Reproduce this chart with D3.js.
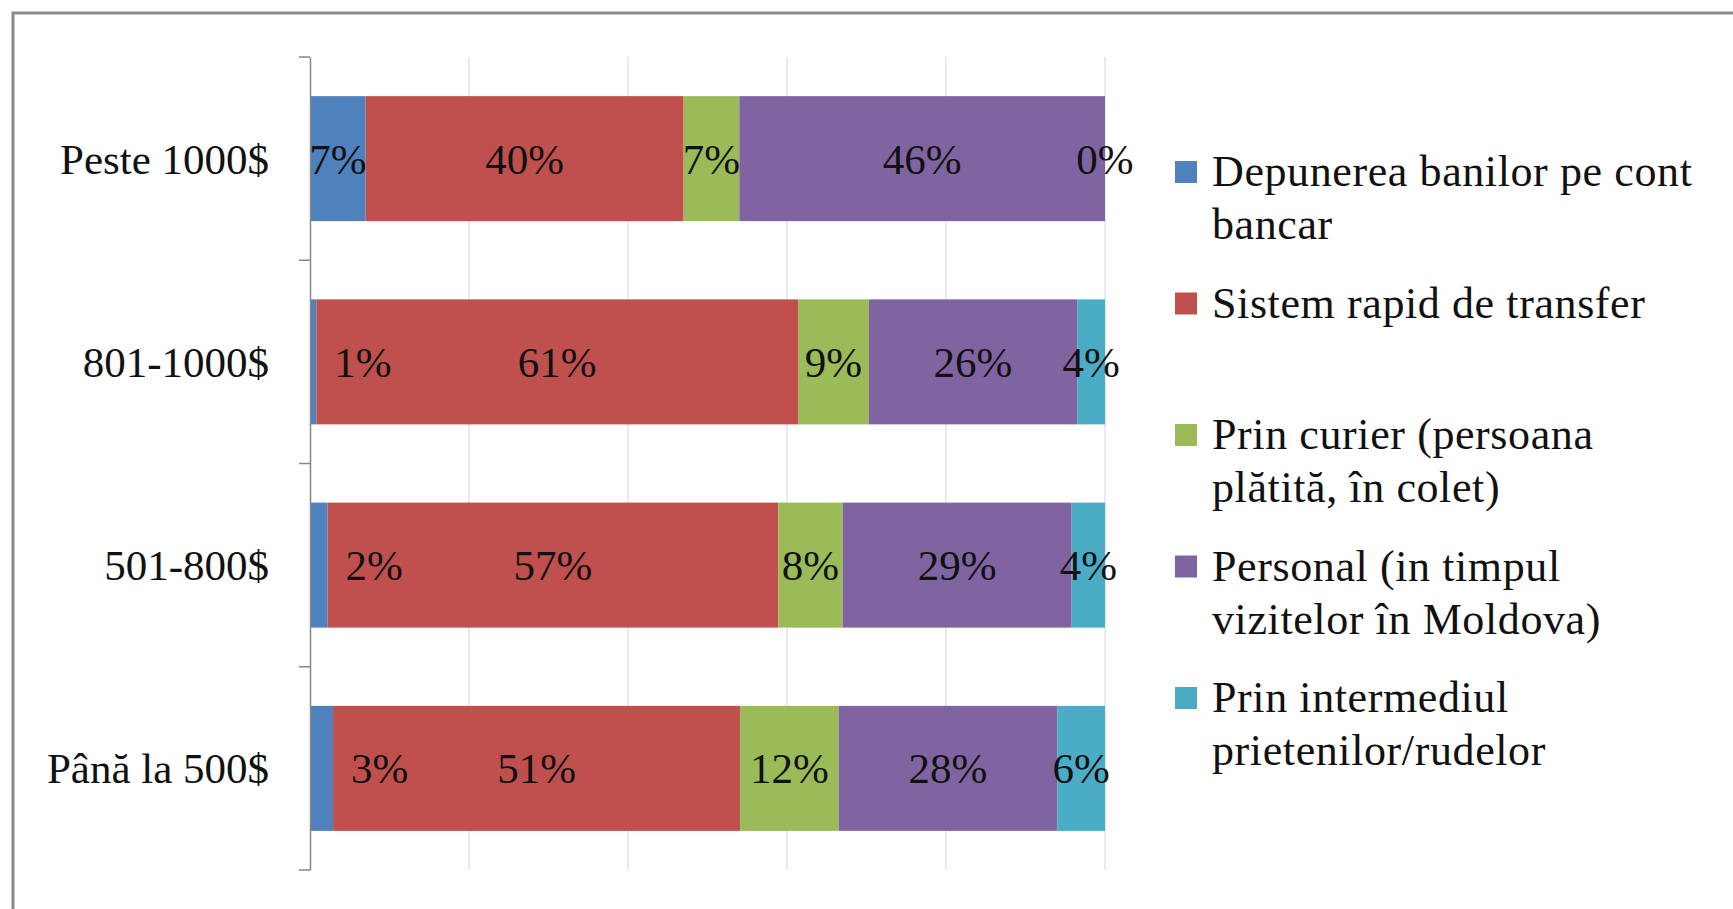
<html>
<script src="https://d3js.org/d3.v7.min.js"></script>
<style>
  body { margin:0; background:#fff; }
  svg text { font-family:"Palatino Linotype","Book Antiqua",Palatino,"Liberation Serif",serif; fill:#111; }
</style>
<body>
<svg id="chart"></svg>
<script>

// categories, top to bottom
var categories = ["Peste 1000$","801-1000$","501-800$","Până la 500$"];

// series (share of each way of sending money, %)
var seriesNames = [
  "Depunerea banilor pe cont\nbancar",
  "Sistem rapid de transfer",
  "Prin curier (persoana\nplătită, în colet)",
  "Personal (in timpul\nvizitelor în Moldova)",
  "Prin intermediul\nprietenilor/rudelor"
];
var depunere   = [7.0, 0.8, 2.2, 2.9];
var sistem     = [40.0, 60.6, 56.7, 51.2];
var curier     = [7.0, 8.9, 8.1, 12.4];
var personal   = [46.0, 26.2, 28.8, 27.5];
var prieteni   = [0.0, 3.5, 4.2, 6.0];
var seriesColors = ["#4F81BD","#C0504D","#9BBB59","#8064A2","#4BACC6"];
var xTicks = [20,40,60,80,100];

var allSeries = [depunere,sistem,curier,personal,prieteni];

var screen = {width:1733, height:909};

var svg = d3.select("#chart")
    .attr("width",screen.width)
    .attr("height",screen.height);

//outer frame
svg.append("rect")
    .attr("x",13).attr("y",13)
    .attr("width",1760).attr("height",940)
    .attr("fill","none")
    .attr("stroke","#8a8a8a")
    .attr("stroke-width",3);

//scales
var xScale = d3.scaleLinear()
    .domain([0,100])
    .range([310,1105]);

var yScale = d3.scaleBand()
    .domain(categories)
    .range([57,870])
    .paddingInner(0.385)
    .paddingOuter(0.1925);

//gridlines
svg.append("g")
    .selectAll("line")
    .data(xTicks)
    .enter()
    .append("line")
    .attr("x1",function(d){return xScale(d);})
    .attr("x2",function(d){return xScale(d);})
    .attr("y1",57)
    .attr("y2",870)
    .attr("stroke","#dadfe8")
    .attr("stroke-width",1.3);

//stack the data
var rows = categories.map(function(c,i){
    var row = {cat:c};
    allSeries.forEach(function(s,j){ row["s"+j] = s[i]; });
    return row;
});
var keys = allSeries.map(function(s,j){return "s"+j;});
var stacked = d3.stack().keys(keys)(rows);

var layers = svg.append("g")
    .selectAll("g")
    .data(stacked)
    .enter()
    .append("g")
    .attr("fill",function(d,i){return seriesColors[i];});

layers.selectAll("rect")
    .data(function(d){return d;})
    .enter()
    .append("rect")
    .attr("x",function(d){return xScale(d[0]);})
    .attr("y",function(d){return yScale(d.data.cat);})
    .attr("width",function(d){return xScale(d[1])-xScale(d[0]);})
    .attr("height",yScale.bandwidth());

//y axis line + ticks between categories
var axis = svg.append("g")
    .attr("transform","translate("+xScale(0)+",0)")
    .call(d3.axisLeft(yScale).tickSize(0).tickFormat(""));
axis.select(".domain").attr("stroke","#868686").attr("stroke-width",1.5);

var step = yScale.step();
var tickY = d3.range(categories.length+1).map(function(i){return 57+i*step;});
svg.append("g")
    .selectAll("line")
    .data(tickY)
    .enter()
    .append("line")
    .attr("x1",xScale(0)-11)
    .attr("x2",xScale(0))
    .attr("y1",function(d){return d;})
    .attr("y2",function(d){return d;})
    .attr("stroke","#868686")
    .attr("stroke-width",1.5);

//category labels
svg.append("g")
    .selectAll("text")
    .data(categories)
    .enter()
    .append("text")
    .text(function(d){return d;})
    .attr("text-anchor","end")
    .attr("x",xScale(0)-41)
    .attr("y",function(d){return yScale(d)+yScale.bandwidth()/2+15;})
    .style("font-size","43px");

//data labels, drawn above all bars
var labelLayers = svg.append("g")
    .selectAll("g")
    .data(stacked)
    .enter()
    .append("g");

labelLayers.selectAll("text")
    .data(function(d){return d.map(function(p){ p.series = d.index; return p; });})
    .enter()
    .append("text")
    .text(function(d){return Math.round(d[1]-d[0])+"%";})
    .attr("y",function(d){return yScale(d.data.cat)+yScale.bandwidth()/2+15;})
    .style("font-size","43px")
    .each(function(d){
        var t = d3.select(this);
        var w = this.getComputedTextLength();
        var x0 = xScale(d[0]), x1 = xScale(d[1]);
        if (d.series === 0 && (x1-x0) < w*0.8) {
            t.attr("text-anchor","start").attr("x",x1+18);
        } else {
            t.attr("text-anchor","middle").attr("x",(x0+x1)/2);
        }
    });

//legend
var legend = svg.append("g")
    .selectAll("g")
    .data(seriesNames)
    .enter()
    .append("g")
    .attr("transform",function(d,i){return "translate(1175,"+(186+i*131.5)+")";});

legend.append("rect")
    .attr("x",0)
    .attr("y",-25)
    .attr("width",22)
    .attr("height",22)
    .attr("fill",function(d,i){return seriesColors[i];});

legend.append("text")
    .attr("x",37)
    .style("font-size","44px")
    .style("letter-spacing","0.6px")
    .selectAll("tspan")
    .data(function(d){return d.split("\n");})
    .enter()
    .append("tspan")
    .attr("x",37)
    .attr("dy",function(d,i){return i===0 ? 0 : 53;})
    .text(function(d){return d;});

</script>
</body>
</html>
